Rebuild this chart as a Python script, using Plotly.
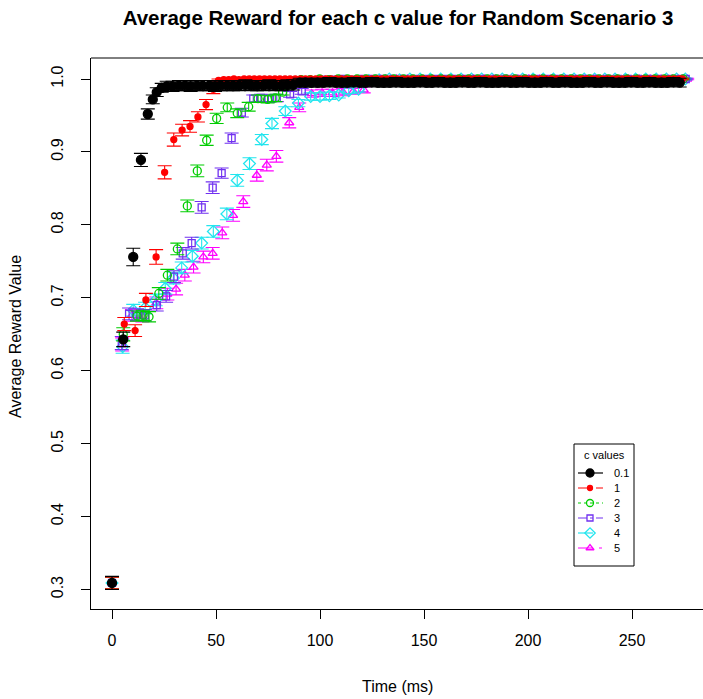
import plotly.graph_objects as go

# ---------------- data ----------------
c_labels = ["0.1", "1", "2", "3", "4", "5"]

# c = 0.1
black_t = [0.0, 5.4, 10.2, 13.9, 17.2, 19.6, 21.5, 23.9,
           26.3, 29.1, 32.2, 35.0, 37.8, 40.9, 43.6, 46.7, 49.5, 52.3,
           55.4, 58.2, 61.0, 64.1, 66.9, 69.7, 72.8, 75.6, 78.4, 81.5,
           84.3, 87.1, 90.2, 93.0, 95.8, 98.9, 101.7, 104.5, 107.6, 110.4,
           113.2, 116.3, 119.1, 121.9, 125.0, 127.8, 130.6, 133.7, 136.5, 139.3,
           142.4, 145.2, 148.0, 151.1, 153.9, 156.7, 159.8, 162.6, 165.4, 168.5,
           171.3, 174.1, 177.2, 180.0, 182.8, 185.9, 188.7, 191.5, 194.6, 197.4,
           200.2, 203.3, 206.1, 208.9, 212.0, 214.8, 217.6, 220.7, 223.5, 226.3,
           229.4, 232.2, 235.0, 238.1, 240.9, 243.7, 246.8, 249.6, 252.4, 255.5,
           258.3, 261.1, 264.2, 267.0, 269.8, 272.9]
black_r = [0.309, 0.643, 0.756, 0.889, 0.952, 0.972, 0.982, 0.988,
           0.990, 0.990, 0.991, 0.991, 0.990, 0.991, 0.991, 0.991, 0.990, 0.991,
           0.991, 0.991, 0.991, 0.992, 0.991, 0.991, 0.991, 0.992, 0.991, 0.991,
           0.992, 0.992, 0.995, 0.995, 0.995, 0.995, 0.995, 0.996, 0.995, 0.995,
           0.995, 0.996, 0.995, 0.995, 0.996, 0.995, 0.995, 0.995, 0.996, 0.995,
           0.995, 0.995, 0.996, 0.995, 0.995, 0.996, 0.995, 0.995, 0.995, 0.996,
           0.995, 0.995, 0.996, 0.995, 0.995, 0.995, 0.996, 0.995, 0.995, 0.996,
           0.995, 0.995, 0.995, 0.996, 0.995, 0.995, 0.996, 0.995, 0.995, 0.995,
           0.996, 0.995, 0.995, 0.996, 0.995, 0.995, 0.995, 0.996, 0.995, 0.995,
           0.996, 0.995, 0.995, 0.995, 0.996, 0.995]
black_e = [0.009, 0.010, 0.012, 0.009, 0.007, 0.006, 0.006, 0.006,
           0.007, 0.007, 0.007, 0.007, 0.007, 0.007, 0.007, 0.007, 0.007, 0.007,
           0.007, 0.007, 0.007, 0.007, 0.007, 0.007, 0.007, 0.007, 0.007, 0.007,
           0.007, 0.007, 0.006, 0.006, 0.006, 0.006, 0.006, 0.006, 0.006, 0.006,
           0.006, 0.006, 0.006, 0.006, 0.006, 0.006, 0.006, 0.006, 0.006, 0.006,
           0.006, 0.006, 0.006, 0.006, 0.006, 0.006, 0.006, 0.006, 0.006, 0.006,
           0.006, 0.006, 0.006, 0.006, 0.006, 0.006, 0.006, 0.006, 0.006, 0.006,
           0.006, 0.006, 0.006, 0.006, 0.006, 0.006, 0.006, 0.006, 0.006, 0.006,
           0.006, 0.006, 0.006, 0.006, 0.006, 0.006, 0.006, 0.006, 0.006, 0.006,
           0.006, 0.006, 0.006, 0.006, 0.006, 0.006]

# c = 1
red_t = [0.0, 5.9, 11.1, 16.3, 21.2, 25.3, 29.7, 33.7, 37.5, 41.3, 45.2, 48.7,
         51.2, 53.7, 56.1, 58.6, 61.0, 63.5, 66.0, 68.4, 70.9, 73.3,
         75.8, 78.3, 80.7, 83.2, 85.6, 88.1, 90.6, 93.0, 95.5, 97.9,
         100.4, 102.9, 105.3, 107.8, 110.2, 112.7, 115.2, 117.6, 120.1, 122.5,
         125.0, 127.5, 129.9, 132.4, 134.8, 137.3, 139.8, 142.2, 144.7, 147.1,
         149.6, 152.1, 154.5, 157.0, 159.4, 161.9, 164.4, 166.8, 169.3, 171.7,
         174.2, 176.7, 179.1, 181.6, 184.0, 186.5, 189.0, 191.4, 193.9, 196.3,
         198.8, 201.3, 203.7, 206.2, 208.6, 211.1, 213.6, 216.0, 218.5, 220.9,
         223.4, 225.9, 228.3, 230.8, 233.2, 235.7, 238.2, 240.6, 243.1, 245.5,
         248.0, 250.5, 252.9, 255.4, 257.8, 260.3, 262.8, 265.2, 267.7, 270.1,
         272.6, 274.0]
red_r = [0.309, 0.664, 0.655, 0.697, 0.756, 0.872, 0.917, 0.930, 0.935, 0.948, 0.965, 0.986,
         0.998, 0.999, 0.999, 1.000, 0.999, 1.000, 1.000, 1.000, 1.000, 1.000,
         1.000, 1.000, 1.000, 1.000, 1.000, 1.000, 1.000, 1.000, 1.000, 1.000,
         1.000, 1.000, 1.000, 1.000, 1.000, 1.000, 1.000, 1.000, 1.000, 1.000,
         1.000, 1.000, 1.000, 1.000, 1.000, 1.000, 1.000, 1.000, 1.000, 1.000,
         1.000, 1.000, 1.000, 1.000, 1.000, 1.000, 1.000, 1.000, 1.000, 1.000,
         1.000, 1.000, 1.000, 1.000, 1.000, 1.000, 1.000, 1.000, 1.000, 1.000,
         1.000, 1.000, 1.000, 1.000, 1.000, 1.000, 1.000, 1.000, 1.000, 1.000,
         1.000, 1.000, 1.000, 1.000, 1.000, 1.000, 1.000, 1.000, 1.000, 1.000,
         1.000, 1.000, 1.000, 1.000, 1.000, 1.000, 1.000, 1.000, 1.000, 1.000,
         1.000, 1.000]
red_e = [0.008, 0.009, 0.008, 0.009, 0.010, 0.009, 0.009, 0.008, 0.008, 0.007, 0.007, 0.006,
         0.002, 0.002, 0.001, 0.001, 0.001, 0.001, 0.001, 0.001, 0.001, 0.001,
         0.001, 0.001, 0.001, 0.001, 0.001, 0.001, 0.001, 0.001, 0.001, 0.001,
         0.001, 0.001, 0.001, 0.001, 0.001, 0.001, 0.001, 0.001, 0.001, 0.001,
         0.001, 0.001, 0.001, 0.001, 0.001, 0.001, 0.001, 0.001, 0.001, 0.001,
         0.001, 0.001, 0.001, 0.001, 0.001, 0.001, 0.001, 0.001, 0.001, 0.001,
         0.001, 0.001, 0.001, 0.001, 0.001, 0.001, 0.001, 0.001, 0.001, 0.001,
         0.001, 0.001, 0.001, 0.001, 0.001, 0.001, 0.001, 0.001, 0.001, 0.001,
         0.001, 0.001, 0.001, 0.001, 0.001, 0.001, 0.001, 0.001, 0.001, 0.001,
         0.001, 0.001, 0.001, 0.001, 0.001, 0.001, 0.001, 0.001, 0.001, 0.001,
         0.001, 0.001]

# c = 2
green_t = [0.0, 5.4, 12.0, 14.9, 17.8, 22.5, 26.6, 31.4, 36.2, 41.0,
           45.5, 50.3, 55.4, 60.2, 65.7, 70.2, 74.8, 78.5, 82.0,
           86.3, 90.9, 95.2, 99.8, 104.3, 108.7, 113.2, 117.8, 122.1, 126.6,
           131.2, 135.5, 140.1, 144.6, 149.0, 153.5, 158.1, 162.4, 166.9, 171.5,
           175.8, 180.4, 184.9, 189.3, 193.8, 198.4, 202.7, 207.2, 211.8, 216.1,
           220.7, 225.2, 229.6, 234.1, 238.7, 243.0, 247.5, 252.1, 256.4, 261.0,
           265.5, 269.9, 274.6]
green_r = [0.309, 0.650, 0.675, 0.676, 0.674, 0.706, 0.731, 0.767, 0.826, 0.874,
           0.916, 0.946, 0.961, 0.953, 0.962, 0.973, 0.972, 0.974, 0.982,
           0.997, 0.999, 0.999, 1.000, 0.999, 1.000, 1.000, 1.000, 1.000, 1.000,
           1.000, 1.000, 1.000, 1.000, 1.000, 1.000, 1.000, 1.000, 1.000, 1.000,
           1.000, 1.000, 1.000, 1.000, 1.000, 1.000, 1.000, 1.000, 1.000, 1.000,
           1.000, 1.000, 1.000, 1.000, 1.000, 1.000, 1.000, 1.000, 1.000, 1.000,
           1.000, 1.000, 1.000]
green_e = [0.008, 0.009, 0.007, 0.007, 0.007, 0.008, 0.008, 0.008, 0.008, 0.008,
           0.007, 0.007, 0.006, 0.006, 0.006, 0.005, 0.005, 0.005, 0.004,
           0.003, 0.002, 0.001, 0.001, 0.001, 0.001, 0.001, 0.001, 0.001, 0.001,
           0.001, 0.001, 0.001, 0.001, 0.001, 0.001, 0.001, 0.001, 0.001, 0.001,
           0.001, 0.001, 0.001, 0.001, 0.001, 0.001, 0.001, 0.001, 0.001, 0.001,
           0.001, 0.001, 0.001, 0.001, 0.001, 0.001, 0.001, 0.001, 0.001, 0.001,
           0.001, 0.001, 0.001]

# c = 3
purple_t = [0.0, 4.7, 8.2, 12.0, 15.8, 21.5, 26.0, 29.8, 34.0, 38.3,
            43.1, 48.4, 52.7, 57.5, 62.4, 67.9, 71.6, 75.2, 79.2, 85.6, 91.2,
            96.0, 100.9, 105.7, 110.8, 115.6, 120.5, 125.5, 130.3, 135.2, 140.2,
            145.0, 149.9, 154.9, 159.7, 164.6, 169.6, 174.4, 179.3, 184.3, 189.1,
            194.0, 199.0, 203.8, 208.7, 213.7, 218.5, 223.4, 228.4, 233.2, 238.1,
            243.1, 247.9, 252.8, 257.8, 262.6, 267.5, 272.5, 275.8]
purple_r = [0.309, 0.638, 0.678, 0.677, 0.676, 0.690, 0.702, 0.729, 0.761, 0.775,
            0.824, 0.851, 0.871, 0.919, 0.954, 0.973, 0.974, 0.973, 0.974, 0.979, 0.983,
            0.998, 0.999, 0.999, 1.000, 0.999, 1.000, 1.000, 1.000, 1.000, 1.000,
            1.000, 1.000, 1.000, 1.000, 1.000, 1.000, 1.000, 1.000, 1.000, 1.000,
            1.000, 1.000, 1.000, 1.000, 1.000, 1.000, 1.000, 1.000, 1.000, 1.000,
            1.000, 1.000, 1.000, 1.000, 1.000, 1.000, 1.000, 1.000]
purple_e = [0.008, 0.009, 0.008, 0.008, 0.008, 0.008, 0.008, 0.008, 0.008, 0.008,
            0.008, 0.008, 0.007, 0.007, 0.006, 0.005, 0.005, 0.005, 0.005, 0.004, 0.004,
            0.002, 0.002, 0.001, 0.001, 0.001, 0.001, 0.001, 0.001, 0.001, 0.001,
            0.001, 0.001, 0.001, 0.001, 0.001, 0.001, 0.001, 0.001, 0.001, 0.001,
            0.001, 0.001, 0.001, 0.001, 0.001, 0.001, 0.001, 0.001, 0.001, 0.001,
            0.001, 0.001, 0.001, 0.001, 0.001, 0.001, 0.001, 0.001]

# c = 4
cyan_t = [0.0, 5.1, 10.2, 15.9, 21.0, 25.6, 29.5, 33.5, 38.6, 43.1,
          48.7, 55.2, 60.2, 66.1, 72.0, 76.9, 83.3, 89.6, 95.5, 100.0,
          104.5, 109.0, 113.8, 118.5,
          123.4, 128.4, 133.3, 138.2, 143.2, 148.1, 153.0, 158.0, 162.9, 167.8,
          172.8, 177.7, 182.6, 187.6, 192.5, 197.4, 202.4, 207.3, 212.2, 217.2,
          222.1, 227.0, 232.0, 236.9, 241.8, 246.8, 251.7, 256.6, 261.6, 266.5,
          271.4, 275.6]
cyan_r = [0.309, 0.633, 0.683, 0.686, 0.697, 0.713, 0.727, 0.741, 0.757, 0.775,
          0.791, 0.815, 0.861, 0.884, 0.917, 0.939, 0.956, 0.967, 0.976, 0.976,
          0.977, 0.978, 0.984, 0.986,
          0.998, 0.999, 1.000, 0.999, 1.000, 1.000, 1.000, 1.000, 1.000, 1.000,
          1.000, 1.000, 1.000, 1.000, 1.000, 1.000, 1.000, 1.000, 1.000, 1.000,
          1.000, 1.000, 1.000, 1.000, 1.000, 1.000, 1.000, 1.000, 1.000, 1.000,
          1.000, 1.000]
cyan_e = [0.008, 0.009, 0.008, 0.008, 0.008, 0.008, 0.008, 0.008, 0.008, 0.008,
          0.008, 0.008, 0.008, 0.008, 0.007, 0.007, 0.006, 0.005, 0.005, 0.005,
          0.005, 0.004, 0.004, 0.004,
          0.002, 0.002, 0.001, 0.001, 0.001, 0.001, 0.001, 0.001, 0.001, 0.001,
          0.001, 0.001, 0.001, 0.001, 0.001, 0.001, 0.001, 0.001, 0.001, 0.001,
          0.001, 0.001, 0.001, 0.001, 0.001, 0.001, 0.001, 0.001, 0.001, 0.001,
          0.001, 0.001]

# c = 5
magenta_t = [0.0, 4.9, 9.6, 14.6, 21.3, 26.6, 30.8, 35.0, 39.2, 43.9,
             48.4, 53.0, 58.2, 63.1, 69.6, 74.4, 79.0, 85.2, 90.0, 96.0,
             101.0, 106.0, 111.0, 116.0, 121.0,
             126.2, 131.5, 136.8, 142.1, 147.4, 152.7, 158.0, 163.3, 168.6, 173.9,
             179.2, 184.5, 189.8, 195.1, 200.4, 205.7, 211.0, 216.3, 221.6, 226.9,
             232.2, 237.5, 242.8, 248.1, 253.4, 258.7, 264.0, 269.3, 274.6, 276.5]
magenta_r = [0.309, 0.636, 0.676, 0.675, 0.693, 0.705, 0.712, 0.731, 0.742, 0.756,
             0.761, 0.789, 0.813, 0.832, 0.868, 0.882, 0.894, 0.940, 0.961, 0.980,
             0.981, 0.981, 0.982, 0.983, 0.985,
             0.999, 1.000, 1.000, 1.000, 1.000, 1.000, 1.000, 1.000, 1.000, 1.000,
             1.000, 1.000, 1.000, 1.000, 1.000, 1.000, 1.000, 1.000, 1.000, 1.000,
             1.000, 1.000, 1.000, 1.000, 1.000, 1.000, 1.000, 1.000, 1.000, 1.000]
magenta_e = [0.008, 0.009, 0.008, 0.008, 0.008, 0.008, 0.008, 0.008, 0.008, 0.008,
             0.008, 0.008, 0.008, 0.008, 0.008, 0.008, 0.008, 0.007, 0.006, 0.005,
             0.005, 0.005, 0.005, 0.004, 0.004,
             0.002, 0.001, 0.001, 0.001, 0.001, 0.001, 0.001, 0.001, 0.001, 0.001,
             0.001, 0.001, 0.001, 0.001, 0.001, 0.001, 0.001, 0.001, 0.001, 0.001,
             0.001, 0.001, 0.001, 0.001, 0.001, 0.001, 0.001, 0.001, 0.001, 0.001]

x_ticks = [0, 50, 100, 150, 200, 250]
y_ticks = [0.3, 0.4, 0.5, 0.6, 0.7, 0.8, 0.9, 1.0]

# ---------------- styles ----------------
colors = ["#000000", "#FF0000", "#00CD00", "#7030F0", "#22E5EE", "#FF00FF"]
symbols = ["circle", "circle", "circle-open", "square-open", "diamond-open", "triangle-up-open"]
sizes = [9, 6, 8, 7, 9, 8]
dashes = ["solid", "dash", "dot", "dashdot", "longdash", "longdashdot"]

data = [(black_t, black_r, black_e), (red_t, red_r, red_e), (green_t, green_r, green_e),
        (purple_t, purple_r, purple_e), (cyan_t, cyan_r, cyan_e), (magenta_t, magenta_r, magenta_e)]
for i, (t, r, e) in enumerate(data):
    assert len(t) == len(r) == len(e), (i, len(t), len(r), len(e))

FONT = "Liberation Sans, Arial, Helvetica, sans-serif"
W, H = 703, 699
L, T, B = 91, 58, 90
plot_w = W - L
plot_h = H - T - B

fig = go.Figure()

# data traces, drawn last series first so the c=0.1 points sit on top
for i in reversed(range(6)):
    t, r, e = data[i]
    fig.add_trace(go.Scatter(
        x=t, y=r, mode="markers", showlegend=False, name=c_labels[i],
        marker=dict(symbol=symbols[i], size=sizes[i], color=colors[i],
                    line=dict(width=1.3, color=colors[i])),
        error_y=dict(type="data", array=e, visible=True, color=colors[i],
                     thickness=1.1, width=7),
        cliponaxis=False,
    ))

# ---------------- R-style legend box (overlay pixel axes) ----------------
leg_left, leg_right, leg_top, leg_bottom = 574, 634, 444, 566
row_y0, row_step = 473, 15
for i in range(6):
    yy = row_y0 + row_step * i
    fig.add_trace(go.Scatter(
        x=[578, 590, 603], y=[yy, yy, yy], xaxis="x2", yaxis="y2",
        mode="lines", showlegend=False, hoverinfo="skip",
        line=dict(color=colors[i], width=1.2, dash=dashes[i]), cliponaxis=False))
    fig.add_trace(go.Scatter(
        x=[590], y=[yy], xaxis="x2", yaxis="y2",
        mode="markers", showlegend=False, hoverinfo="skip",
        marker=dict(symbol=symbols[i], size=sizes[i] - 1, color=colors[i],
                    line=dict(width=1.3, color=colors[i])), cliponaxis=False))

annotations = [
    dict(text="Time (ms)", xref="paper", yref="paper", x=0.5016, y=(609 - 686) / plot_h,
         xanchor="center", yanchor="middle", showarrow=False, font=dict(size=16)),
    dict(text="Average Reward Value", xref="paper", yref="paper",
         x=(15 - L) / plot_w, y=(609 - 337) / plot_h, textangle=-90,
         xanchor="center", yanchor="middle", showarrow=False, font=dict(size=16)),
    dict(text="c values", xref="x2", yref="y2", x=(leg_left + leg_right) / 2, y=455,
         xanchor="center", yanchor="middle", showarrow=False, font=dict(size=11)),
]
for i in range(6):
    annotations.append(dict(text=c_labels[i], xref="x2", yref="y2", x=612,
                            y=row_y0 + row_step * i, xanchor="left", yanchor="middle",
                            showarrow=False, font=dict(size=11)))

fig.update_layout(
    width=W, height=H,
    margin=dict(l=L, r=0, t=T, b=B, pad=0),
    paper_bgcolor="white", plot_bgcolor="white",
    font=dict(family=FONT, size=16, color="black"),
    showlegend=False,
    title=dict(text="<b>Average Reward for each c value for Random Scenario 3</b>",
               x=0.5016, xref="paper", xanchor="center",
               y=1 - 18 / H, yref="container", yanchor="middle",
               font=dict(family=FONT, size=20.5, color="black")),
    xaxis=dict(range=[-10.1, 284.1], tickvals=x_ticks, ticktext=[str(v) for v in x_ticks],
               showgrid=False, zeroline=False, showline=True, linecolor="black", linewidth=1,
               ticks="outside", ticklen=9, tickwidth=1, tickcolor="black",
               ticklabelstandoff=8, tickfont=dict(size=16)),
    yaxis=dict(range=[0.2733, 1.0288], tickvals=y_ticks, ticktext=[f"{v:.1f}" for v in y_ticks],
               showgrid=False, zeroline=False, showline=True, linecolor="black", linewidth=1,
               ticks="outside", ticklen=9, tickwidth=1, tickcolor="black",
               tickangle=-90, ticklabelstandoff=12, tickfont=dict(size=16)),
    xaxis2=dict(range=[L, W], overlaying="x", visible=False, fixedrange=True),
    yaxis2=dict(range=[H - B, T], overlaying="y", visible=False, fixedrange=True),
    shapes=[
        dict(type="line", xref="paper", yref="paper", x0=0, x1=1.02, y0=1, y1=1,
             line=dict(color="black", width=1)),
        dict(type="rect", xref="x2", yref="y2", x0=leg_left, x1=leg_right,
             y0=leg_top, y1=leg_bottom, line=dict(color="black", width=1),
             fillcolor="white", layer="below"),
    ],
    annotations=annotations,
)

fig.write_html("out.html")
